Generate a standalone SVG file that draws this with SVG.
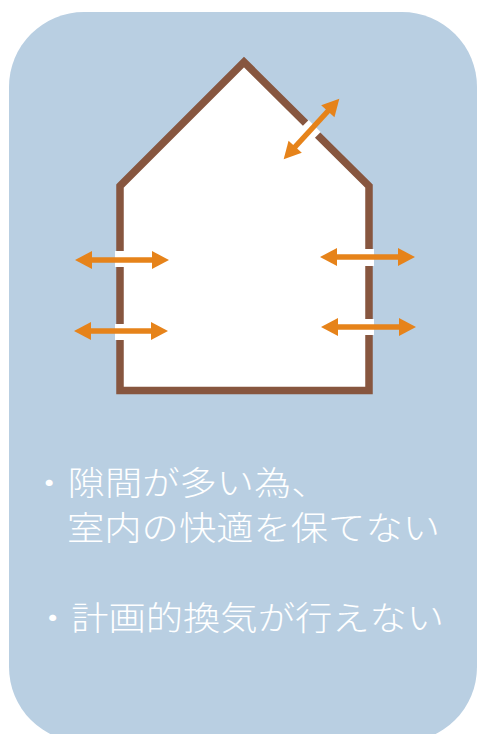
<svg xmlns="http://www.w3.org/2000/svg" width="480" height="734" viewBox="0 0 480 734">
  <style>
    .bg { fill: #B9CFE2; }
    .wall { fill: #FFFFFF; stroke: #87563F; stroke-width: 7.5; stroke-linejoin: miter; }
    .gap { fill: #FFFFFF; }
    .gapline { stroke: #FFFFFF; stroke-width: 9.5; }
    .arrow { stroke: #E6831A; stroke-width: 5.5; fill: none; marker-start: url(#head); marker-end: url(#head); }
    .label { font-family: "Noto Sans CJK JP", "Noto Sans", sans-serif; font-weight: 300; font-size: 33px; fill: #FFFFFF; }
  </style>
  <defs>
    <marker id="head" markerUnits="userSpaceOnUse" markerWidth="20" markerHeight="20" viewBox="0 -10 18 20" refX="1" refY="0" orient="auto-start-reverse">
      <path d="M0,-9 L17,0 L0,9 Z" fill="#E6831A"/>
    </marker>
  </defs>

  <rect id="panel" class="bg" x="9" y="12" width="468" height="730" rx="75" ry="75"/>

  <g id="house">
    <polygon class="wall" points="120,186 244,62 369,186 369,390.5 120,390.5"/>
    <rect class="gap" x="115" y="251" width="10" height="16"/>
    <rect class="gap" x="115" y="324" width="10" height="16"/>
    <rect class="gap" x="364" y="249" width="10" height="17"/>
    <rect class="gap" x="364" y="319" width="10" height="16"/>
    <line class="gapline" x1="305.3" y1="123.3" x2="317.3" y2="135.3"/>
  </g>

  <g id="connectors">
    <line class="arrow" x1="91" y1="260" x2="153" y2="260"/>
    <line class="arrow" x1="90" y1="331" x2="152" y2="331"/>
    <line class="arrow" x1="336" y1="257" x2="399" y2="257"/>
    <line class="arrow" x1="337" y1="327" x2="400" y2="327"/>
    <line class="arrow" x1="294.5" y1="147.5" x2="328.5" y2="110.5"/>
  </g>

  <g id="text1">
    <text class="label" x="30.5" y="495" textLength="298" lengthAdjust="spacingAndGlyphs">・隙間が多い為、</text>
    <text class="label" x="67" y="540" textLength="373" lengthAdjust="spacingAndGlyphs">室内の快適を保てない</text>
  </g>
  <g id="text2">
    <text class="label" x="34" y="630" textLength="410" lengthAdjust="spacingAndGlyphs">・計画的換気が行えない</text>
  </g>
</svg>
